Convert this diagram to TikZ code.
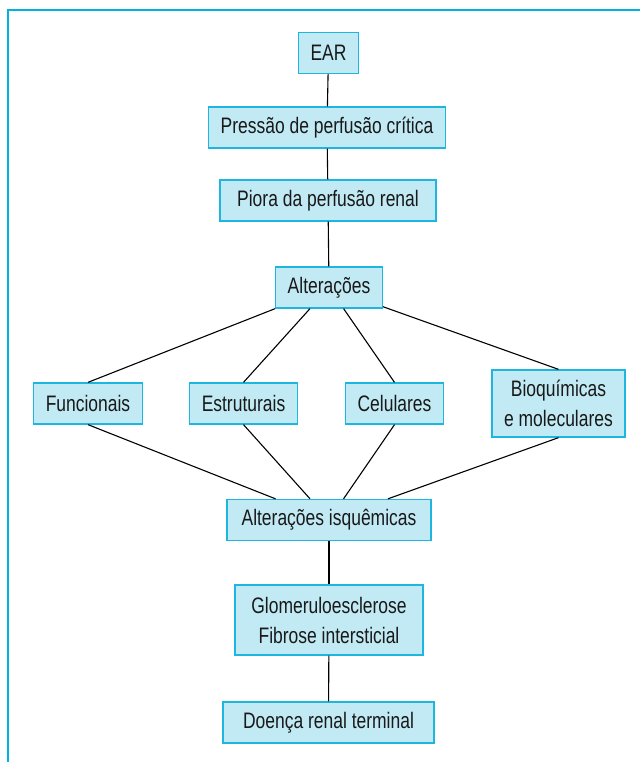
\documentclass[tikz,border=0pt]{standalone}
\usepackage{fontspec}
\setmainfont{Liberation Sans}[FakeStretch=0.78]
\definecolor{framecyan}{HTML}{00B2DD}
\definecolor{boxfill}{HTML}{C2EAF4}
\definecolor{boxline}{HTML}{1CB6DF}

\begin{document}
\begin{tikzpicture}[x=1pt,y=-1pt,
    box/.style={draw=boxline, fill=boxfill, line width=1.3pt, inner xsep=12pt,
      inner ysep=0pt, minimum height=41pt, align=center,
      font=\fontsize{22.4}{30}\selectfont, text=black!90},
    link/.style={line width=1.1pt}]

    \useasboundingbox (0,0) rectangle (640,762);

    % Frame (left and top edges only)
    \draw [framecyan, line width=2pt] (8,762) -- (8,10) -- (640,10);

    % Main chain
    \node [box] (ear)   at (328.5, 53)  {EAR};
    \node [box] (pres)  at (327, 127.5) {Pressão de perfusão crítica};
    \node [box, minimum width=216pt] (piora) at (328, 200.5) {Piora da perfusão renal};
    \node [box] (alt)   at (329, 287.5) {Alterações};

    % Kinds of changes
    \node [box] (func) at (88, 403.5)    {Funcionais};
    \node [box] (estr) at (243.5, 403.5) {Estruturais};
    \node [box] (cel)  at (394.5, 403.5) {Celulares};
    \node [box, minimum height=67pt] (bio) at (558.5, 403.5) {Bioquímicas\\e moleculares};

    \node [box, minimum width=204pt] (isq) at (329, 520) {Alterações isquêmicas};
    \node [box, minimum width=188pt, minimum height=70pt] (glom) at (329, 620)
      {Glomeruloesclerose\\Fibrose intersticial};
    \node [box, minimum width=211pt] (doenca) at (328.5, 722.5) {Doença renal terminal};

    \draw [link] (ear) -- (pres);
    \draw [link] (pres) -- (piora);
    \draw [link] (piora) -- (alt);

    % Fan out and back in
    \foreach \c in {func,estr,cel,bio} {
      \draw [link] (alt) -- (\c.north);
      \draw [link] (\c.south) -- (isq);
    }

    \draw [link] (isq) -- (glom);
    \draw [link] (glom) -- (doenca);

  \end{tikzpicture}
\end{document}
